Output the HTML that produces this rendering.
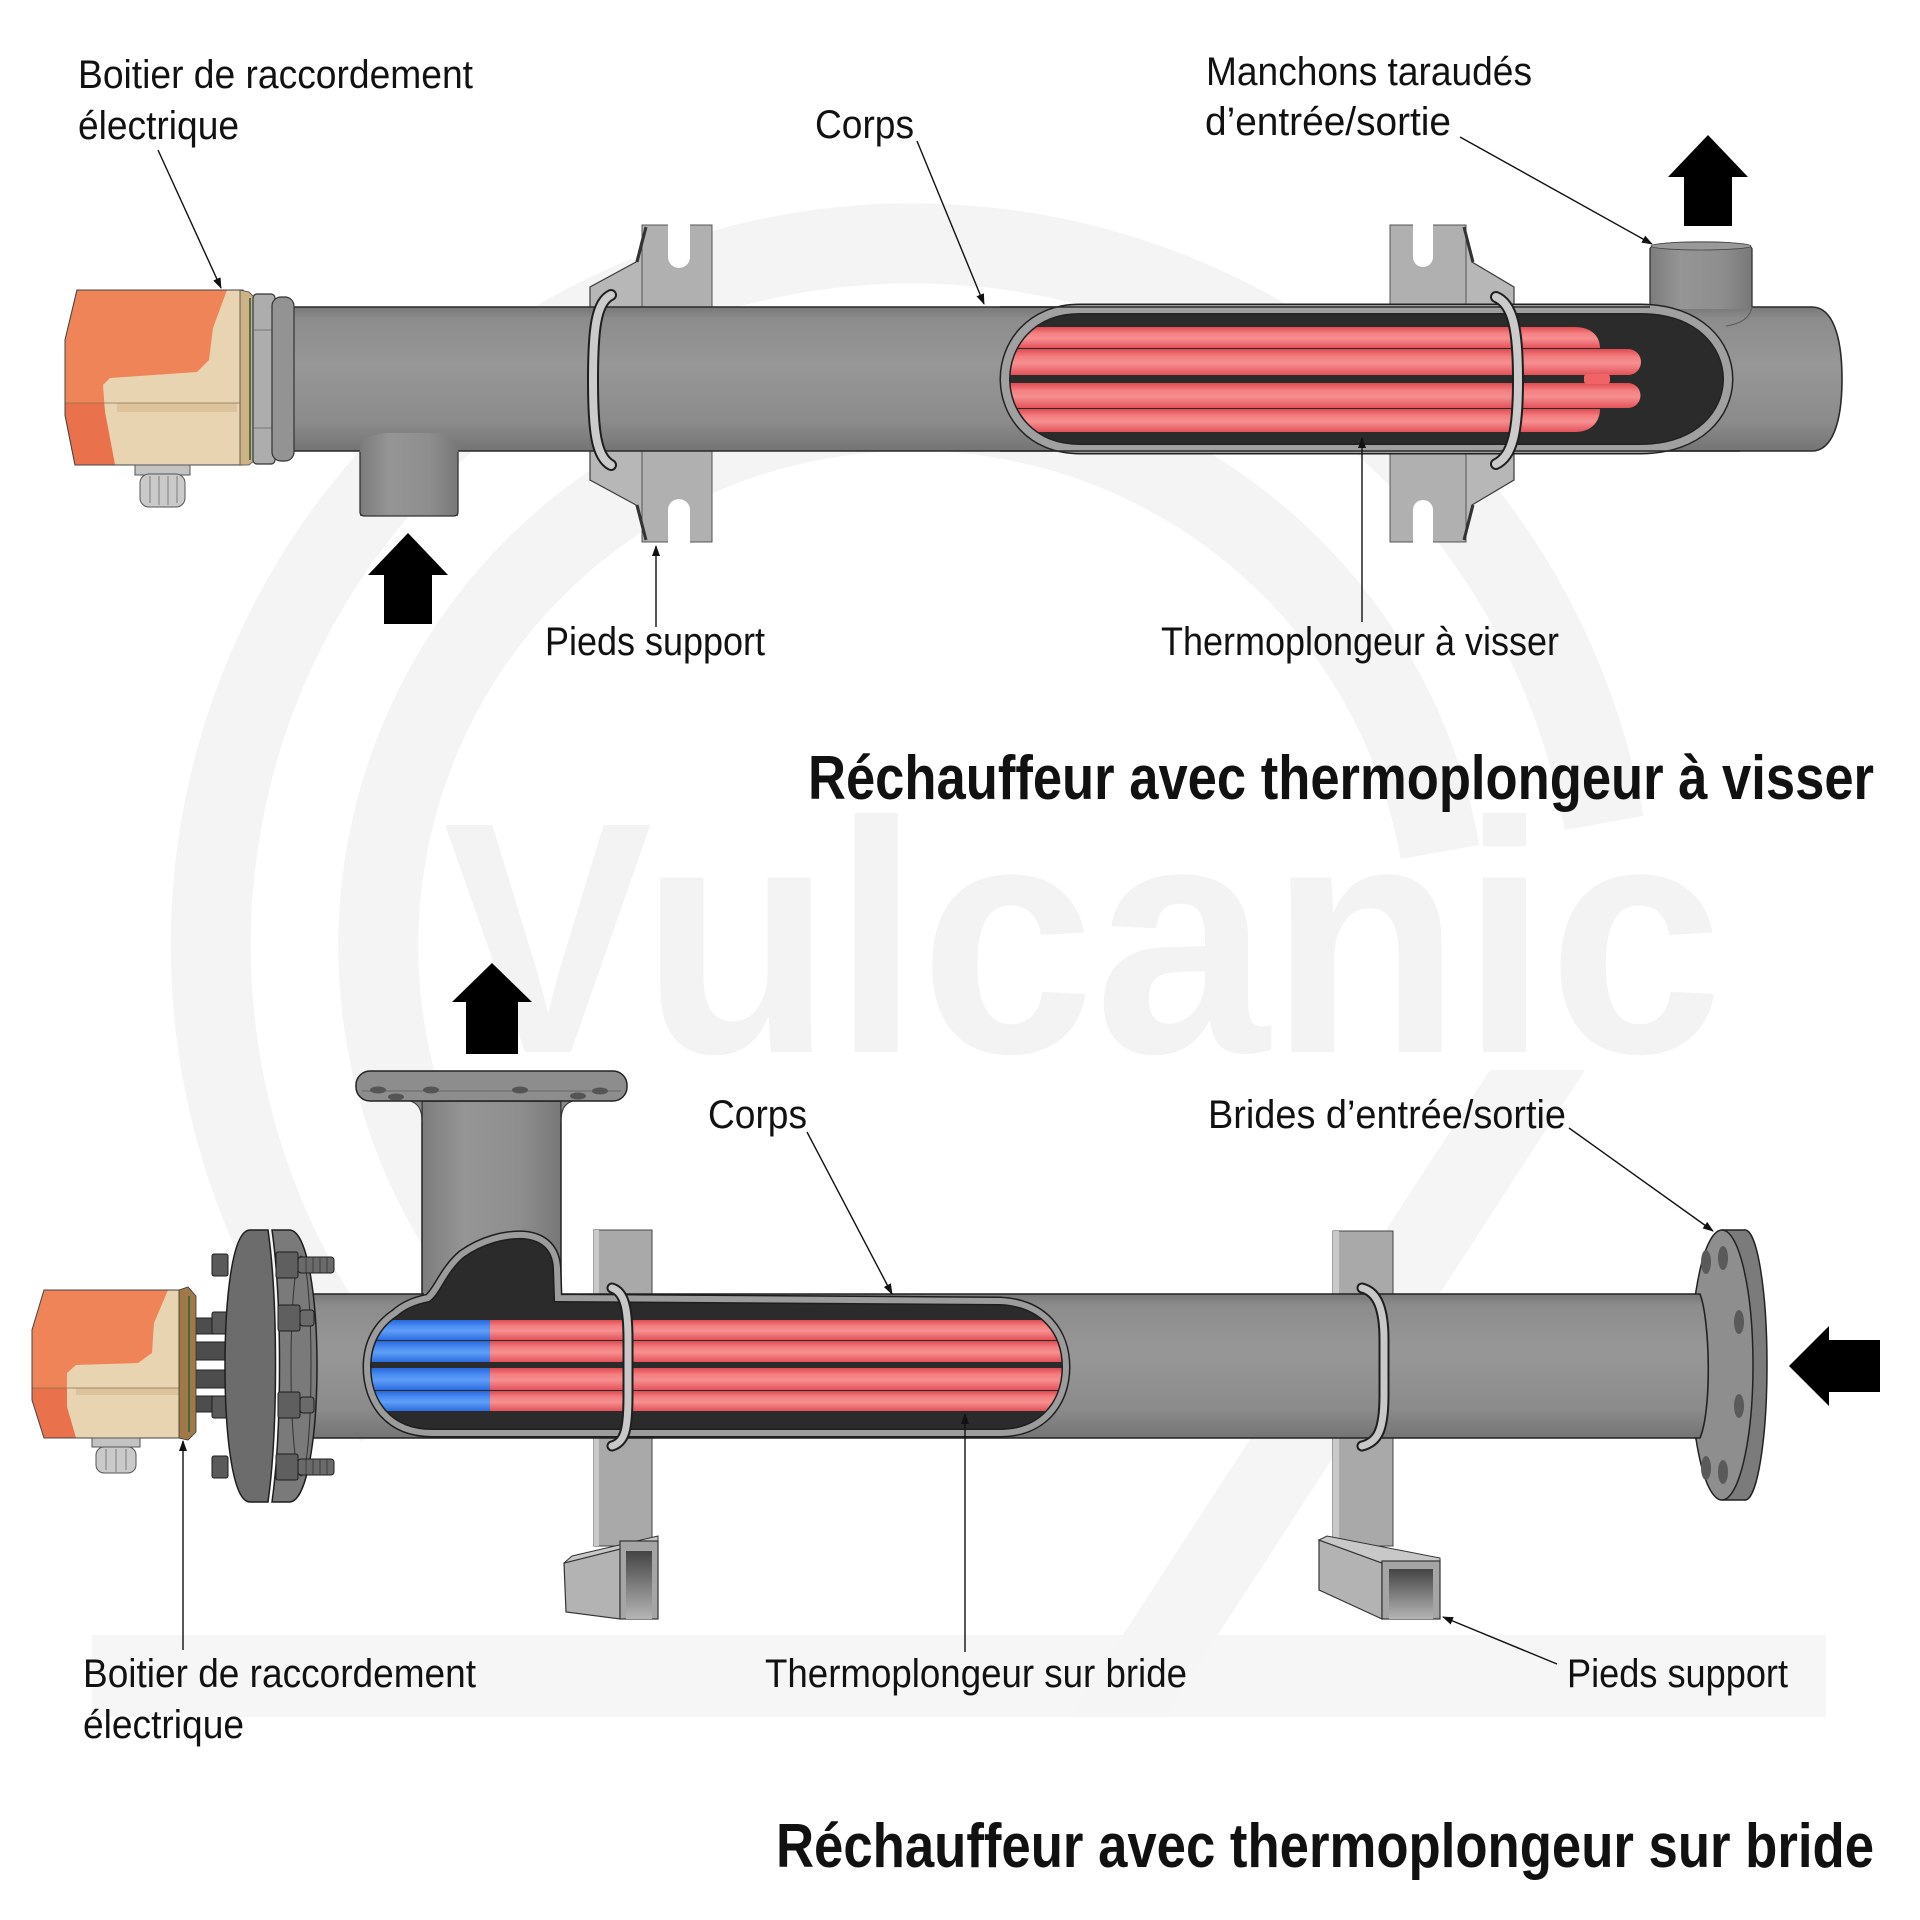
<!DOCTYPE html>
<html><head><meta charset="utf-8">
<style>html,body{margin:0;padding:0;background:#fff}svg{display:block}</style>
</head>
<body>
<svg width="1920" height="1920" viewBox="0 0 1920 1920" xmlns="http://www.w3.org/2000/svg">
<defs>
<linearGradient id="pg" x1="0" y1="0" x2="0" y2="1">
<stop offset="0" stop-color="#777"/><stop offset="0.08" stop-color="#8c8c8c"/><stop offset="0.4" stop-color="#979797"/><stop offset="0.8" stop-color="#8b8b8b"/><stop offset="1" stop-color="#747474"/>
</linearGradient>
<linearGradient id="pgv" x1="0" y1="0" x2="1" y2="0">
<stop offset="0" stop-color="#7c7c7c"/><stop offset="0.3" stop-color="#959595"/><stop offset="0.7" stop-color="#8e8e8e"/><stop offset="1" stop-color="#787878"/>
</linearGradient>
<linearGradient id="rg" x1="0" y1="0" x2="0" y2="1">
<stop offset="0" stop-color="#e04a4f"/><stop offset="0.3" stop-color="#f47f81"/><stop offset="0.55" stop-color="#f68f90"/><stop offset="1" stop-color="#e3525a"/>
</linearGradient>
<linearGradient id="bgr" x1="0" y1="0" x2="0" y2="1">
<stop offset="0" stop-color="#2766dc"/><stop offset="0.3" stop-color="#4a8cf2"/><stop offset="0.55" stop-color="#5f9ef7"/><stop offset="1" stop-color="#2c6de0"/>
</linearGradient>
<linearGradient id="chin" x1="0" y1="0" x2="0" y2="1">
<stop offset="0" stop-color="#444"/><stop offset="1" stop-color="#b5b5b5"/>
</linearGradient>
<marker id="ah" markerWidth="11" markerHeight="8" refX="10" refY="4" orient="auto" markerUnits="userSpaceOnUse">
<path d="M0,0 L11,4 L0,8 Z" fill="#111"/>
</marker>
<clipPath id="c1"><path d="M1080,309 H1640 C1700,309 1728,345 1728,379 C1728,413 1700,449 1640,449 H1080 C1030,449 1005,413 1005,379 C1005,345 1030,309 1080,309 Z"/></clipPath>
<clipPath id="c2"><path d="M395,1313 C405,1304 418,1300 428,1298 C438,1290 443,1270 462,1254 C482,1240 505,1234 524,1235 C546,1237 556,1250 557,1268 L558,1298 L1000,1301 C1045,1303 1066,1333 1066,1367 C1066,1404 1042,1433 1000,1433 L432,1433 C388,1433 367,1402 367,1367 C367,1342 378,1324 395,1313 Z"/></clipPath>
</defs>

<rect width="1920" height="1920" fill="#fff"/>

<!-- watermark -->
<g fill="none" stroke="#f4f4f4" stroke-width="80">
<path d="M391,1415 A702,702 0 1 1 1604,823"/>
<path d="M515,1303 A535,535 0 1 1 1440,852"/>
</g>
<rect x="92" y="1635" width="1734" height="82" fill="#f6f6f6"/>
<polygon points="1490,1070 1585,1070 1165,1716 1070,1716" fill="#f5f5f5"/>
<text x="443" y="1052" font-family="Liberation Sans, Arial, sans-serif" font-size="330" font-weight="bold" textLength="1280" lengthAdjust="spacingAndGlyphs" fill="#f3f3f3">Vulcanic</text>

<!-- ================= TOP ASSEMBLY ================= -->
<!-- foot 1 -->
<polygon points="645,226 636,262 590,287 590,480 636,505 645,540" fill="#b7b7b7" stroke="#3a3a3a" stroke-width="1.2"/>
<rect x="642" y="225" width="70" height="317" fill="#b0b0b0" stroke="#555" stroke-width="1"/>
<path d="M668,224 V257 A11,11 0 0 0 690,257 V224 Z" fill="#fff"/>
<path d="M668,543 V510 A11,11 0 0 1 690,510 V543 Z" fill="#fff"/>
<path d="M646,227 L637,262 M637,505 L646,540" stroke="#333" stroke-width="3" fill="none"/>
<!-- foot 2 -->
<polygon points="1463,226 1472,262 1514,287 1514,480 1472,505 1463,540" fill="#b7b7b7" stroke="#3a3a3a" stroke-width="1.2"/>
<rect x="1390" y="225" width="76" height="317" fill="#b0b0b0" stroke="#555" stroke-width="1"/>
<path d="M1413,224 V257 A10,10 0 0 0 1433,257 V224 Z" fill="#fff"/>
<path d="M1413,543 V510 A10,10 0 0 1 1433,510 V543 Z" fill="#fff"/>
<path d="M1464,227 L1473,262 M1473,505 L1464,540" stroke="#333" stroke-width="3" fill="none"/>

<!-- pipe -->
<path d="M273,307 H1812 C1832,307 1842,335 1842,379 C1842,423 1832,451 1812,451 H273 Z" fill="url(#pg)" stroke="#2a2a2a" stroke-width="1.6"/>

<!-- inlet socket -->
<path d="M360,516 V447 C360,439 372,433 392,433 H428 C448,433 458,440 458,448 V516 Z" fill="url(#pgv)"/>
<path d="M360,452 V512 Q360,516 365,516 H453 Q458,516 458,512 V452" fill="none" stroke="#333" stroke-width="1.3"/>

<!-- outlet socket (behind cutaway) -->
<path d="M1650,309 V249 C1650,244 1670,242 1701,242 C1732,242 1752,244 1752,249 V309 Z" fill="url(#pgv)"/>
<path d="M1650,307 V249 C1650,244 1670,242 1701,242 C1732,242 1752,244 1752,249 V307" fill="none" stroke="#333" stroke-width="1.3"/>
<path d="M1752,307 C1750,318 1740,324 1726,326" fill="none" stroke="#5a5a5a" stroke-width="1"/>
<ellipse cx="1701" cy="246" rx="50" ry="4" fill="#999" stroke="#444" stroke-width="0.8"/>

<!-- cutaway top -->
<path d="M1080,309 H1640 C1700,309 1728,345 1728,379 C1728,413 1700,449 1640,449 H1080 C1030,449 1005,413 1005,379 C1005,345 1030,309 1080,309 Z" fill="#2b2b2b"/>
<g clip-path="url(#c1)">
<path d="M1000,327 H1575 C1592,327 1600,337 1600,348 H1000 Z" fill="url(#rg)"/>
<path d="M1000,349 H1628 A13,13 0 0 1 1628,375 H1000 Z" fill="url(#rg)"/>
<path d="M1000,383 H1628 A12.5,12.5 0 0 1 1628,408 H1000 Z" fill="url(#rg)"/>
<path d="M1000,409 H1600 C1600,421 1592,432 1575,432 H1000 Z" fill="url(#rg)"/>
<rect x="1584" y="374" width="26" height="10" rx="3" fill="#f06466"/>
</g>
<path d="M1080,309 H1640 C1700,309 1728,345 1728,379 C1728,413 1700,449 1640,449 H1080 C1030,449 1005,413 1005,379 C1005,345 1030,309 1080,309 Z" fill="none" stroke="#222" stroke-width="11"/>
<path d="M1080,309 H1640 C1700,309 1728,345 1728,379 C1728,413 1700,449 1640,449 H1080 C1030,449 1005,413 1005,379 C1005,345 1030,309 1080,309 Z" fill="none" stroke="#a0a0a0" stroke-width="8"/>
<line x1="1000" y1="307" x2="1650" y2="307" stroke="#2a2a2a" stroke-width="1.6"/>
<line x1="1000" y1="451" x2="1740" y2="451" stroke="#2a2a2a" stroke-width="1.6"/>

<!-- clamps top -->
<g fill="none" stroke-linecap="round">
<path d="M611,295 C596,302 593,330 593,380 C593,430 596,457 611,465" stroke="#1e1e1e" stroke-width="12"/>
<path d="M611,295 C596,302 593,330 593,380 C593,430 596,457 611,465" stroke="#cbcbcb" stroke-width="8"/>
<path d="M1496,297 C1513,304 1518,330 1518,380 C1518,430 1513,456 1496,464" stroke="#1e1e1e" stroke-width="12"/>
<path d="M1496,297 C1513,304 1518,330 1518,380 C1518,430 1513,456 1496,464" stroke="#cbcbcb" stroke-width="8"/>
</g>

<!-- junction box top -->
<polygon points="77,290 243,290 243,465 75,465 65,415 65,340" fill="#e9d4b2" stroke="#444" stroke-width="1"/>
<polygon points="77,290 227,290 213,328 209,360 197,372 110,378 103,385 105,412 115,465 75,465 65,415 65,340" fill="#f08459"/>
<polygon points="65,403 104,403 105,412 115,465 75,465 65,415" fill="#e9724c"/>
<rect x="117" y="403" width="120" height="9" fill="#dcc39c"/>
<line x1="65" y1="403" x2="240" y2="403" stroke="#8a7050" stroke-width="0.8"/>
<polygon points="77,290 243,290 243,465 75,465 65,415 65,340" fill="none" stroke="#444" stroke-width="1"/>
<polygon points="240,290 249,292 255,298 255,460 249,465 240,465" fill="#cdb286" stroke="#444" stroke-width="0.8"/>
<line x1="250" y1="298" x2="250" y2="460" stroke="#2e5e3e" stroke-width="1.6"/>
<rect x="253" y="294" width="22" height="170" rx="4" fill="#adadad" stroke="#333" stroke-width="1.2"/>
<line x1="254" y1="330" x2="274" y2="330" stroke="#777"/>
<line x1="254" y1="428" x2="274" y2="428" stroke="#777"/>
<rect x="272" y="297" width="22" height="164" rx="9" fill="#939393" stroke="#333" stroke-width="1.2"/>
<rect x="135" y="465" width="55" height="10" fill="#c3c3c3" stroke="#555"/>
<rect x="140" y="474" width="45" height="33" rx="9" fill="#cacaca" stroke="#555"/>
<g stroke="#8a8a8a" stroke-width="1.2"><line x1="150" y1="476" x2="150" y2="503"/><line x1="159" y1="476" x2="159" y2="505"/><line x1="168" y1="476" x2="168" y2="505"/><line x1="177" y1="476" x2="177" y2="503"/></g>

<!-- arrows top -->
<polygon points="408,533 448,575 432,575 432,624 384,624 384,575 368,575" fill="#000"/>
<polygon points="1708,135 1748,177 1732,177 1732,226 1684,226 1684,177 1668,177" fill="#000"/>

<!-- ================= BOTTOM ASSEMBLY ================= -->
<!-- support plates -->
<rect x="594" y="1230" width="58" height="316" fill="#a9a9a9" stroke="#444"/>
<rect x="594" y="1230" width="5" height="316" fill="#c9c9c9"/>
<rect x="1333" y="1231" width="60" height="315" fill="#a9a9a9" stroke="#444"/>
<rect x="1333" y="1231" width="6" height="315" fill="#c9c9c9"/>
<!-- channel 1 -->
<polygon points="564,1563 620,1549 620,1619 566,1612" fill="#b3b3b3" stroke="#333" stroke-width="1.2"/>
<polygon points="564,1563 572,1556 658,1536 658,1541 620,1549" fill="#c8c8c8" stroke="#333" stroke-width="1"/>
<rect x="620" y="1541" width="38" height="78" fill="#a5a5a5" stroke="#333" stroke-width="1.2"/>
<rect x="626" y="1551" width="26" height="68" fill="url(#chin)"/>
<!-- channel 2 -->
<polygon points="1319,1540 1382,1563 1382,1619 1319,1590" fill="#b3b3b3" stroke="#333" stroke-width="1.2"/>
<polygon points="1319,1540 1327,1536 1440,1558 1440,1563 1382,1563" fill="#c8c8c8" stroke="#333" stroke-width="1"/>
<rect x="1382" y="1561" width="58" height="58" fill="#a5a5a5" stroke="#333" stroke-width="1.2"/>
<rect x="1389" y="1569" width="44" height="50" fill="url(#chin)"/>

<!-- right flange -->
<ellipse cx="1745" cy="1365" rx="22" ry="135" fill="#7b7b7b" stroke="#222" stroke-width="1.5"/>
<rect x="1722" y="1230" width="23" height="270" fill="#7b7b7b"/>
<line x1="1722" y1="1230" x2="1745" y2="1230" stroke="#222" stroke-width="1.5"/>
<line x1="1722" y1="1500" x2="1745" y2="1500" stroke="#222" stroke-width="1.5"/>
<ellipse cx="1722" cy="1365" rx="31" ry="135" fill="#8e8e8e" stroke="#222" stroke-width="1.5"/>
<g fill="#5a5a5a"><ellipse cx="1706" cy="1262" rx="5" ry="12"/><ellipse cx="1723" cy="1258" rx="5" ry="12"/><ellipse cx="1739" cy="1322" rx="5" ry="12"/><ellipse cx="1739" cy="1406" rx="5" ry="12"/><ellipse cx="1706" cy="1468" rx="5" ry="12"/><ellipse cx="1723" cy="1472" rx="5" ry="12"/></g>

<!-- branch pipe + flange -->
<path d="M422,1101 V1300 H561 V1101 Z" fill="url(#pgv)" stroke="#222" stroke-width="1.5"/>
<path d="M406,1100 C419,1102 422,1110 422,1122 L422,1100 Z M577,1100 C564,1102 561,1110 561,1122 L561,1100 Z" fill="#888" stroke="#333" stroke-width="1"/>
<rect x="356" y="1071" width="271" height="30" rx="14" fill="#8d8d8d" stroke="#222" stroke-width="1.5"/>
<line x1="362" y1="1091" x2="621" y2="1091" stroke="#5a5a5a" stroke-width="0.8"/>
<g fill="#555"><ellipse cx="378" cy="1090" rx="8" ry="3.5"/><ellipse cx="396" cy="1097" rx="8" ry="3.5"/><ellipse cx="431" cy="1090" rx="8" ry="3.5"/><ellipse cx="520" cy="1090" rx="8" ry="3.5"/><ellipse cx="578" cy="1096" rx="8" ry="3.5"/><ellipse cx="600" cy="1091" rx="8" ry="3.5"/></g>

<!-- main pipe bottom -->
<path d="M301,1294 H1700 C1710,1320 1712,1410 1700,1438 H301 Z" fill="url(#pg)" stroke="#222" stroke-width="1.6"/>
<line x1="424" y1="1294" x2="559" y2="1294" stroke="#8a8a8a" stroke-width="3"/>

<!-- cutaway bottom -->
<path d="M395,1313 C405,1304 418,1300 428,1298 C438,1290 443,1270 462,1254 C482,1240 505,1234 524,1235 C546,1237 556,1250 557,1268 L558,1298 L1000,1301 C1045,1303 1066,1333 1066,1367 C1066,1404 1042,1433 1000,1433 L432,1433 C388,1433 367,1402 367,1367 C367,1342 378,1324 395,1313 Z" fill="#2b2b2b"/>
<g clip-path="url(#c2)">
<rect x="360" y="1320" width="130" height="20" fill="url(#bgr)"/>
<rect x="360" y="1341" width="130" height="21" fill="url(#bgr)"/>
<rect x="360" y="1368" width="130" height="22" fill="url(#bgr)"/>
<rect x="360" y="1391" width="130" height="20" fill="url(#bgr)"/>
<rect x="490" y="1320" width="590" height="20" fill="url(#rg)"/>
<rect x="490" y="1341" width="590" height="21" fill="url(#rg)"/>
<rect x="490" y="1368" width="590" height="22" fill="url(#rg)"/>
<rect x="490" y="1391" width="590" height="20" fill="url(#rg)"/>
</g>
<path d="M395,1313 C405,1304 418,1300 428,1298 C438,1290 443,1270 462,1254 C482,1240 505,1234 524,1235 C546,1237 556,1250 557,1268 L558,1298 L1000,1301 C1045,1303 1066,1333 1066,1367 C1066,1404 1042,1433 1000,1433 L432,1433 C388,1433 367,1402 367,1367 C367,1342 378,1324 395,1313 Z" fill="none" stroke="#1e1e1e" stroke-width="9"/>
<path d="M395,1313 C405,1304 418,1300 428,1298 C438,1290 443,1270 462,1254 C482,1240 505,1234 524,1235 C546,1237 556,1250 557,1268 L558,1298 L1000,1301 C1045,1303 1066,1333 1066,1367 C1066,1404 1042,1433 1000,1433 L432,1433 C388,1433 367,1402 367,1367 C367,1342 378,1324 395,1313 Z" fill="none" stroke="#9c9c9c" stroke-width="6"/>

<!-- clamps bottom -->
<g fill="none" stroke-linecap="round">
<path d="M612,1288 C625,1292 628,1310 628,1340 L628,1395 C628,1430 625,1442 612,1446" stroke="#1e1e1e" stroke-width="11"/>
<path d="M612,1288 C625,1292 628,1310 628,1340 L628,1395 C628,1430 625,1442 612,1446" stroke="#c8c8c8" stroke-width="7"/>
<path d="M1362,1288 C1378,1292 1384,1310 1384,1340 L1384,1395 C1384,1430 1378,1442 1362,1446" stroke="#1e1e1e" stroke-width="11"/>
<path d="M1362,1288 C1378,1292 1384,1310 1384,1340 L1384,1395 C1384,1430 1378,1442 1362,1446" stroke="#c8c8c8" stroke-width="7"/>
</g>

<!-- rods -->
<g fill="#4d4d4d" stroke="#222" stroke-width="1">
<rect x="188" y="1318" width="42" height="16"/><rect x="188" y="1342" width="42" height="18"/><rect x="188" y="1370" width="42" height="18"/><rect x="188" y="1396" width="42" height="16"/>
</g>
<!-- left nuts -->
<g fill="#5a5a5a" stroke="#1e1e1e" stroke-width="1">
<rect x="212" y="1254" width="16" height="22" rx="2"/><rect x="212" y="1312" width="16" height="22" rx="2"/><rect x="212" y="1396" width="16" height="22" rx="2"/><rect x="212" y="1456" width="16" height="22" rx="2"/>
</g>
<!-- left flange discs -->
<path d="M250,1230 C232,1230 225,1300 225,1366 C225,1432 232,1502 250,1502 L268,1502 C278,1430 278,1300 268,1230 Z" fill="#6c6c6c" stroke="#1e1e1e" stroke-width="1.5"/>
<path d="M272,1230 L290,1230 C308,1232 317,1300 317,1366 C317,1432 308,1500 290,1502 L272,1502 C282,1430 282,1300 272,1230 Z" fill="#7a7a7a" stroke="#1e1e1e" stroke-width="1.5"/>
<ellipse cx="301" cy="1366" rx="10" ry="110" fill="none" stroke="#333" stroke-width="1"/>
<!-- bolts -->
<g stroke="#1e1e1e" stroke-width="1">
<rect x="276" y="1252" width="22" height="26" rx="2" fill="#5f5f5f"/><rect x="298" y="1257" width="36" height="16" rx="3" fill="#6a6a6a"/>
<rect x="276" y="1454" width="22" height="26" rx="2" fill="#5f5f5f"/><rect x="298" y="1459" width="36" height="16" rx="3" fill="#6a6a6a"/>
<rect x="278" y="1305" width="22" height="26" rx="2" fill="#5f5f5f"/><rect x="300" y="1310" width="14" height="16" rx="3" fill="#6a6a6a"/>
<rect x="278" y="1392" width="22" height="26" rx="2" fill="#5f5f5f"/><rect x="300" y="1397" width="14" height="16" rx="3" fill="#6a6a6a"/>
</g>
<g stroke="#333" stroke-width="0.8">
<line x1="306" y1="1257" x2="306" y2="1273"/><line x1="313" y1="1257" x2="313" y2="1273"/><line x1="320" y1="1257" x2="320" y2="1273"/><line x1="327" y1="1257" x2="327" y2="1273"/>
<line x1="306" y1="1459" x2="306" y2="1475"/><line x1="313" y1="1459" x2="313" y2="1475"/><line x1="320" y1="1459" x2="320" y2="1475"/><line x1="327" y1="1459" x2="327" y2="1475"/>
</g>

<!-- junction box bottom -->
<polygon points="44,1290 190,1290 190,1438 44,1438 32,1400 32,1330" fill="#e9d4b2"/>
<polygon points="44,1290 168,1290 154,1323 152,1353 138,1363 76,1365 67,1373 67,1407 76,1438 44,1438 32,1400 32,1330" fill="#f08459"/>
<polygon points="32,1388 67,1388 67,1407 76,1438 44,1438 32,1400" fill="#e9724c"/>
<rect x="76" y="1388" width="103" height="7" fill="#dcc39c"/>
<line x1="32" y1="1388" x2="180" y2="1388" stroke="#8a7050" stroke-width="0.8"/>
<polygon points="44,1290 190,1290 190,1438 44,1438 32,1400 32,1330" fill="none" stroke="#444" stroke-width="1"/>
<polygon points="179,1290 188,1287 196,1296 196,1432 188,1440 179,1438" fill="#9f7a48" stroke="#333" stroke-width="0.8"/>
<line x1="189" y1="1296" x2="189" y2="1432" stroke="#2e5e3e" stroke-width="1.5"/>
<rect x="92" y="1438" width="48" height="9" fill="#c3c3c3" stroke="#555"/>
<rect x="96" y="1447" width="40" height="26" rx="8" fill="#cacaca" stroke="#555"/>
<g stroke="#8a8a8a" stroke-width="1.2"><line x1="106" y1="1449" x2="106" y2="1470"/><line x1="116" y1="1449" x2="116" y2="1472"/><line x1="126" y1="1449" x2="126" y2="1470"/></g>

<!-- arrows bottom -->
<polygon points="492,963 532,1002 518,1002 518,1054 466,1054 466,1002 452,1002" fill="#000"/>
<polygon points="1789,1366 1829,1326 1829,1340 1880,1340 1880,1392 1829,1392 1829,1406" fill="#000"/>

<!-- leaders -->
<g stroke="#111" stroke-width="1.4" fill="none" marker-end="url(#ah)">
<line x1="158" y1="150" x2="221" y2="288"/>
<line x1="917" y1="141" x2="984" y2="304"/>
<line x1="1460" y1="137" x2="1652" y2="244"/>
<line x1="656" y1="627" x2="656" y2="546"/>
<line x1="1362" y1="622" x2="1362" y2="438"/>
<line x1="807" y1="1132" x2="892" y2="1294"/>
<line x1="1569" y1="1128" x2="1713" y2="1231"/>
<line x1="183" y1="1650" x2="183" y2="1441"/>
<line x1="965" y1="1652" x2="965" y2="1414"/>
<line x1="1557" y1="1664" x2="1443" y2="1617"/>
</g>

<!-- labels -->
<g font-family="Liberation Sans, Arial, sans-serif" font-size="40" fill="#111">
<text x="78" y="88" textLength="395" lengthAdjust="spacingAndGlyphs">Boitier de raccordement</text>
<text x="78" y="139" textLength="161" lengthAdjust="spacingAndGlyphs">électrique</text>
<text x="815" y="138" textLength="99" lengthAdjust="spacingAndGlyphs">Corps</text>
<text x="1206" y="85" textLength="326" lengthAdjust="spacingAndGlyphs">Manchons taraudés</text>
<text x="1205" y="135" textLength="246" lengthAdjust="spacingAndGlyphs">d’entrée/sortie</text>
<text x="545" y="655" textLength="220" lengthAdjust="spacingAndGlyphs">Pieds support</text>
<text x="1161" y="655" textLength="398" lengthAdjust="spacingAndGlyphs">Thermoplongeur à visser</text>
<text x="708" y="1128" textLength="99" lengthAdjust="spacingAndGlyphs">Corps</text>
<text x="1208" y="1128" textLength="358" lengthAdjust="spacingAndGlyphs">Brides d’entrée/sortie</text>
<text x="83" y="1687" textLength="393" lengthAdjust="spacingAndGlyphs">Boitier de raccordement</text>
<text x="83" y="1738" textLength="161" lengthAdjust="spacingAndGlyphs">électrique</text>
<text x="765" y="1687" textLength="422" lengthAdjust="spacingAndGlyphs">Thermoplongeur sur bride</text>
<text x="1567" y="1687" textLength="221" lengthAdjust="spacingAndGlyphs">Pieds support</text>
</g>
<g font-family="Liberation Sans, Arial, sans-serif" font-size="62" font-weight="bold" fill="#111">
<text x="808" y="799" textLength="1066" lengthAdjust="spacingAndGlyphs">Réchauffeur avec thermoplongeur à visser</text>
<text x="776" y="1867" textLength="1098" lengthAdjust="spacingAndGlyphs">Réchauffeur avec thermoplongeur sur bride</text>
</g>
</svg>
</body></html>
